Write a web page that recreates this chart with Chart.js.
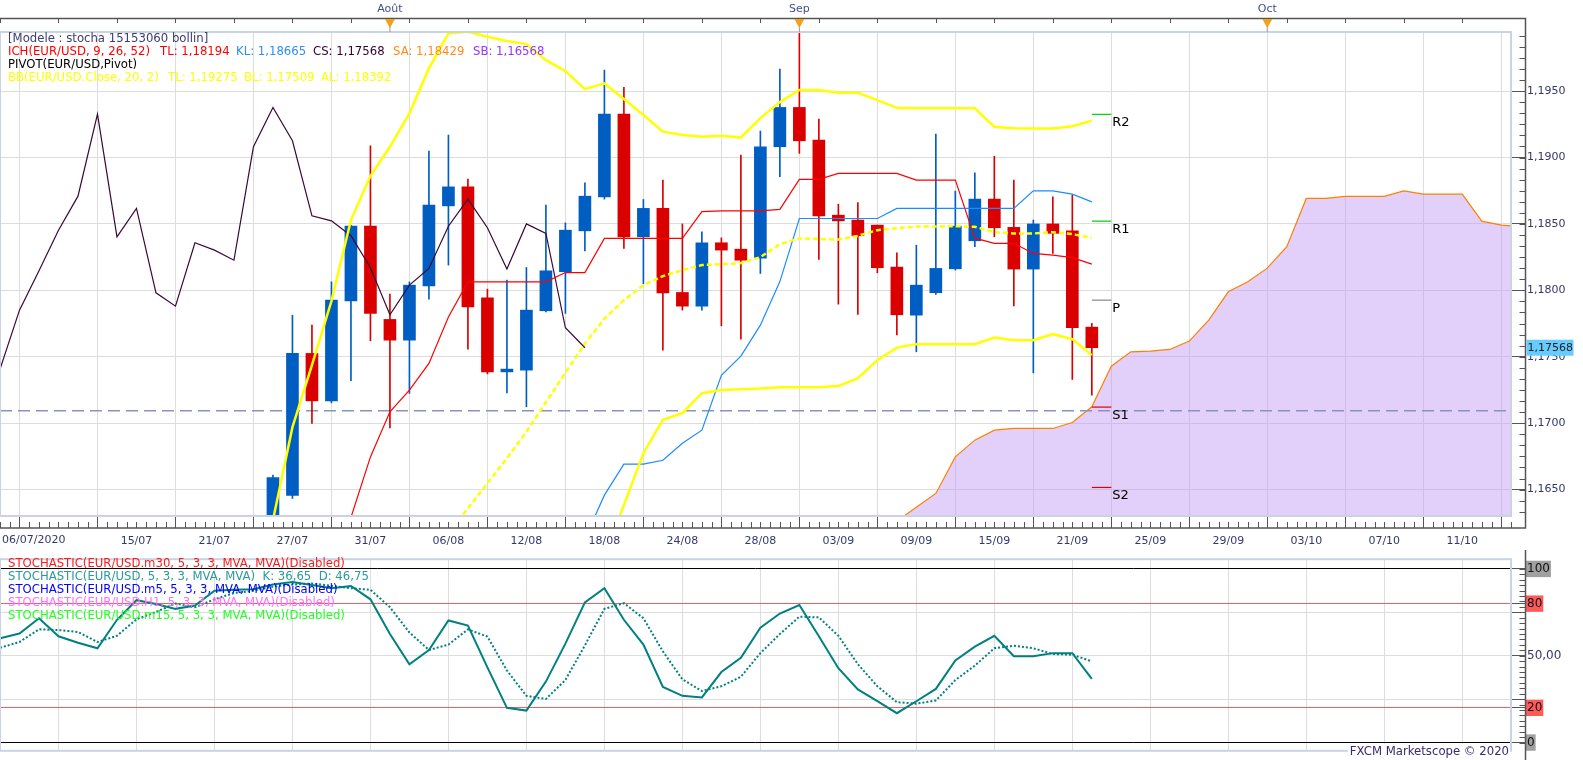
<!DOCTYPE html>
<html>
<head>
<meta charset="utf-8">
<script src="https://cdn.jsdelivr.net/npm/chart.js@4.4.1/dist/chart.umd.min.js"></script>
<style>
  body { margin: 0; background: #fff; width: 1583px; height: 760px; overflow: hidden; }
  #top { position: absolute; left: 0; top: 0; width: 1583px; height: 550px; }
  #bot { position: absolute; left: 0; top: 550px; width: 1583px; height: 210px; }
</style>
</head>
<body>
<div id="top"><canvas id="priceChart"></canvas></div>
<div id="bot"><canvas id="stochChart"></canvas></div>
<script>
// trading days, then calendar days for the projected cloud
const dates = ['06/07','07/07','08/07','09/07','10/07','13/07','14/07','15/07','16/07','17/07',
  '20/07','21/07','22/07','23/07','24/07','27/07','28/07','29/07','30/07','31/07',
  '03/08','04/08','05/08','06/08','07/08','10/08','11/08','12/08','13/08','14/08',
  '17/08','18/08','19/08','20/08','21/08','24/08','25/08','26/08','27/08','28/08','31/08',
  '01/09','02/09','03/09','04/09','07/09','08/09','09/09','10/09','11/09','14/09','15/09',
  '16/09','17/09','18/09','21/09','22/09','23/09','24/09','25/09','26/09','27/09','28/09',
  '29/09','30/09','01/10','02/10','03/10','04/10','05/10','06/10','07/10','08/10','09/10',
  '10/10','11/10','12/10','13/10','14/10'];

const gridDates = ['09/07','15/07','21/07','27/07','31/07','06/08','12/08','18/08','24/08','28/08',
  '03/09','09/09','15/09','21/09','25/09','29/09','03/10','07/10','11/10'];
const firstLabel = '06/07/2020';
const months = ['Août', 'Sep', 'Oct'];
const monthStarts = ['03/08', '01/09', '01/10'];

// daily candles from 24/07
const candleStart = '24/07';
const open  = [1.1594, 1.16456, 1.17525, 1.17168, 1.17921, 1.18483, 1.17781, 1.17625, 1.18034, 1.18636,
  1.18779, 1.17944, 1.17386, 1.17399, 1.17846, 1.18140, 1.18448, 1.18704, 1.19327, 1.18403,
  1.18617, 1.17984, 1.17881, 1.18358, 1.18310, 1.18242, 1.19081, 1.19377, 1.19131, 1.18566,
  1.18529, 1.18491, 1.18175, 1.17813, 1.17982, 1.18162, 1.18373, 1.18687, 1.18474, 1.18160,
  1.18500, 1.18448, 1.17723];
const high  = [1.1661, 1.17813, 1.17738, 1.18064, 1.1849, 1.19088, 1.17971, 1.18064, 1.19048, 1.19169,
  1.18837, 1.18009, 1.18077, 1.18172, 1.18642, 1.18508, 1.1881, 1.19658, 1.19528, 1.18684,
  1.1883, 1.185, 1.1844, 1.18395, 1.19018, 1.19199, 1.19666, 1.2011, 1.19289, 1.18649,
  1.1866, 1.18491, 1.18282, 1.1834, 1.19176, 1.18747, 1.18885, 1.1901, 1.1883, 1.18529,
  1.18704, 1.18717, 1.17751];
const low   = [1.1586, 1.16433, 1.16998, 1.17153, 1.17319, 1.1762, 1.16965, 1.17224, 1.17934, 1.1819,
  1.17557, 1.17371, 1.17228, 1.17123, 1.17838, 1.17826, 1.18297, 1.18687, 1.18316, 1.1805,
  1.1755, 1.17851, 1.17851, 1.17733, 1.17633, 1.18127, 1.18855, 1.19031, 1.18233, 1.17896,
  1.17819, 1.18132, 1.17665, 1.17537, 1.17969, 1.18152, 1.18328, 1.18403, 1.17883, 1.17379,
  1.18278, 1.17329, 1.17211];
const close = [1.1659, 1.17525, 1.17168, 1.17926, 1.18483, 1.17826, 1.17625, 1.18039, 1.18642, 1.18779,
  1.17876, 1.17386, 1.17407, 1.17851, 1.18147, 1.18453, 1.18709, 1.19327, 1.18403, 1.18617,
  1.17981, 1.17881, 1.18358, 1.18303, 1.18227, 1.19081, 1.19377, 1.19126, 1.18561, 1.18523,
  1.18411, 1.1817, 1.17816, 1.18039, 1.18165, 1.18483, 1.18687, 1.18471, 1.1816, 1.185,
  1.18429, 1.17718, 1.17568];

// ichimoku
const tenkanStart = '30/07';
const tenkan = [1.1629, 1.16746, 1.17085, 1.17249, 1.1745, 1.178, 1.18064, 1.18064, 1.18064, 1.18064,
  1.18064, 1.18134, 1.18134, 1.18391, 1.18391, 1.18391, 1.18391, 1.18391, 1.18593, 1.18599,
  1.18599, 1.18599, 1.1861, 1.18835, 1.18835, 1.1888, 1.1888, 1.1888, 1.1888, 1.1883,
  1.1883, 1.1883, 1.18393, 1.18354, 1.18354, 1.18278, 1.18265, 1.18246, 1.18197];
const kijunStart = '17/08';
const kijun = [1.1613, 1.16458, 1.16691, 1.16691, 1.16721, 1.16849, 1.16947, 1.17361, 1.17505, 1.17738,
  1.18066, 1.18541, 1.18541, 1.18541, 1.18541, 1.18541, 1.18617, 1.18617, 1.18617, 1.18617,
  1.18617, 1.18617, 1.18617, 1.18749, 1.18749, 1.18724, 1.18666];
const senkouAStart = '08/09';
const senkouA = [1.16262, 1.16367, 1.16471, 1.16746, 1.16872, 1.16947, 1.1696, 1.1696, 1.1696, 1.17005,
  1.17123, 1.17429, 1.17537, 1.17542, 1.17555, 1.17618, 1.17776, 1.17989, 1.18064, 1.18167,
  1.18329, 1.18692, 1.18692, 1.18707, 1.18707, 1.18707, 1.18749, 1.18724, 1.18724, 1.18724,
  1.18521, 1.18491, 1.1848];
const chikouShift = 26;

// bollinger 20,2
const bbUpperStart = '24/07';
const bbUpper = [1.1627, 1.1697, 1.17437, 1.17919, 1.18529, 1.1886, 1.19081, 1.19332, 1.19671, 1.19934,
  1.19946, 1.19909, 1.19877, 1.19854, 1.19733, 1.19651, 1.19515, 1.19558, 1.1944, 1.1932,
  1.19195, 1.19169, 1.19156, 1.19163, 1.1915, 1.19297, 1.19417, 1.19508, 1.19508, 1.19487,
  1.19487, 1.19432, 1.19374, 1.1937, 1.1937, 1.1937, 1.1937, 1.19231, 1.19221, 1.19219,
  1.19219, 1.19236, 1.19278];
const bbMidStart = '06/08';
const bbMid = [1.1617, 1.1636, 1.16548, 1.16736, 1.16936, 1.17158, 1.1738, 1.17599, 1.17787, 1.17926,
  1.18039, 1.18107, 1.18152, 1.1819, 1.18197, 1.18205, 1.1825, 1.18348, 1.18391, 1.18386,
  1.18383, 1.1841, 1.18453, 1.18468, 1.1848, 1.1848, 1.18483, 1.18478, 1.18438, 1.18428,
  1.18428, 1.18438, 1.18423, 1.18395];
const bbLowerStart = '18/08';
const bbLower = [1.15991, 1.16383, 1.16774, 1.17026, 1.17075, 1.17226, 1.17249, 1.17256, 1.17261, 1.17271,
  1.17271, 1.17271, 1.17279, 1.17339, 1.17474, 1.17569, 1.17595, 1.17595, 1.17595, 1.17595,
  1.17644, 1.17625, 1.17625, 1.1767, 1.17633, 1.17512];

// pivots
const pivotNames  = ['R2', 'R1', 'P', 'S1', 'S2'];
const pivotValues = [1.19325, 1.18521, 1.17926, 1.17121, 1.16516];
const pivotFrom = '22/09', pivotTo = '23/09';
const hLine = 1.17093;
const lastPrice = 1.17568;

// stochastic 5,3,3
const stochStart = '06/07';
const stochK = [60.1, 62.8, 71.6, 61.2, 57.5, 54.3, 70.7, 82, 79.8, 77, 78.9, 87.4, 88, 88.3, 91, 92.5,
  90.7, 88.9, 90.2, 82.5, 62.5, 45.1, 53.3, 70.3, 67.4, 43.3, 20, 18.4, 35.1, 57, 80.7, 88.9,
  70.7, 56.4, 32, 26.9, 26, 40.6, 48.8, 66.1, 74.3, 79.2, 61.2, 42.8, 30.6, 23.8, 16.9, 23.8,
  30.9, 47.3, 55.2, 61.5, 49.7, 49.7, 51.5, 51.5, 36.65];
const stochD = [54.6, 57.9, 65.2, 64.8, 63.7, 57.9, 61.5, 71, 75.2, 80.1, 77.9, 82.5, 86.1, 87.4, 89.8, 91,
  91.6, 90.3, 88.9, 88, 77.9, 63.4, 53.3, 56.4, 65.2, 61, 41.5, 26.9, 25.1, 36, 56, 77, 80.3,
  71.6, 52.5, 36.4, 29.7, 32.4, 37.9, 51.5, 62.5, 72.5, 72.1, 61.5, 45.1, 32.4, 23.3, 22.4,
  24.2, 36, 44.3, 54.3, 55.7, 54.3, 51, 50.6, 46.75];
const stochLevels = [0, 20, 25, 50, 75, 80, 100];

const BLUE = '#005ec2', RED = '#da0000';
const FONT = "'DejaVu Sans', sans-serif";
const LEGEND_FONT = '11.7px ' + FONT;
const AXIS_TEXT = '#33386b';
Chart.defaults.font.family = FONT;
Chart.defaults.font.size = 11;
Chart.defaults.color = AXIS_TEXT;

const pos = d => dates.indexOf(d);
const series = (start, values) => values.map((v, i) => ({ x: pos(start) + i, y: v }));
const fmt = v => v.toFixed(4).replace('.', ',');
const xMax = dates.length - 1.5;
const gridIdx = gridDates.map(pos);

const c0 = pos(candleStart);
const bodies = open.map((o, i) => ({ x: c0 + i, y: [o, close[i]] }));
const wicks = high.map((h, i) => ({ x: c0 + i, y: [low[i], h] }));
const candleColor = c => close[c.dataIndex] >= open[c.dataIndex] ? BLUE : RED;
const chikou = close.map((c, i) => ({ x: c0 + i - chikouShift, y: c }));
const pivotColors = ['#00d000', '#00d000', '#888888', '#e00000', '#e00000'];

function line(data, color, width, extra) {
  return Object.assign({ type: 'line', data, borderColor: color, borderWidth: width,
    pointRadius: 0, tension: 0, fill: false }, extra || {});
}

const datasets = [
  line(series(senkouAStart, senkouA), '#ff7f00', 1.2,
    { fill: 'start', backgroundColor: 'rgba(190,150,245,0.45)', order: 20 }),
  line([{ x: 0, y: hLine }, { x: xMax, y: hLine }], '#8a93c0', 1.5, { borderDash: [12, 6], order: 15 }),
  { type: 'bar', data: wicks, backgroundColor: candleColor, barThickness: 1, grouped: false, order: 11 },
  { type: 'bar', data: bodies, backgroundColor: candleColor, barThickness: 12, grouped: false,
    minBarLength: 2, order: 10 },
  line(chikou, '#3a0838', 1.2, { order: 4 }),
  line(series(kijunStart, kijun), '#1a8cff', 1.2, { order: 3 }),
  line(series(tenkanStart, tenkan), '#ff0000', 1.2, { order: 3 }),
  line(series(bbMidStart, bbMid), '#ffff00', 2.5, { borderDash: [5, 3], order: 1 }),
  line(series(bbUpperStart, bbUpper), '#ffff00', 2.5, { order: 1 }),
  line(series(bbLowerStart, bbLower), '#ffff00', 2.5, { order: 1 })
];
pivotValues.forEach((v, i) => {
  datasets.push(line([{ x: pos(pivotFrom), y: v }, { x: pos(pivotTo), y: v }], pivotColors[i], 1.2, { order: 2 }));
});

function text(ctx, str, x, y, color, font, align, base) {
  ctx.font = font || '11px ' + FONT;
  ctx.fillStyle = color;
  ctx.textAlign = align || 'left';
  ctx.textBaseline = base || 'middle';
  ctx.fillText(str, x, y);
}

const upperDecor = {
  id: 'upperDecor',
  afterDraw(chart) {
    const { ctx, chartArea: a, scales: { x, y } } = chart;
    const axisX = a.right + 14.5, axisY = a.bottom + 12;
    ctx.save();
    ctx.strokeStyle = '#cad3e4'; ctx.lineWidth = 2;
    ctx.strokeRect(a.left, a.top, a.right - a.left, a.bottom - a.top);

    ctx.strokeStyle = '#555'; ctx.lineWidth = 1.5;
    ctx.beginPath();
    ctx.moveTo(0, 18.5); ctx.lineTo(axisX, 18.5); ctx.lineTo(axisX, axisY); ctx.lineTo(0, axisY);
    ctx.stroke();

    ctx.lineWidth = 1;
    ctx.beginPath();
    for (let v = 0; v <= xMax; v += 0.5) {
      const px = Math.round(x.getPixelForValue(v)) + 0.5;
      ctx.moveTo(px, axisY - 6); ctx.lineTo(px, axisY);
    }
    for (let v = 0; v <= xMax; v += 3) {
      const px = Math.round(x.getPixelForValue(v)) + 0.5;
      ctx.moveTo(px, 18.5); ctx.lineTo(px, 23);
    }
    const step = 0.005 / 6;
    for (let v = Math.ceil(y.min / step) * step; v <= y.max; v += step) {
      const py = Math.round(y.getPixelForValue(v)) + 0.5;
      ctx.moveTo(axisX - 6, py); ctx.lineTo(axisX, py);
    }
    ctx.stroke();

    monthStarts.forEach((d, i) => {
      const px = x.getPixelForValue(pos(d));
      ctx.strokeStyle = '#999';
      ctx.beginPath(); ctx.moveTo(px, 26); ctx.lineTo(px, a.top); ctx.stroke();
      ctx.fillStyle = '#f5a01a';
      ctx.beginPath(); ctx.moveTo(px - 5, 19); ctx.lineTo(px + 5, 19); ctx.lineTo(px, 28); ctx.closePath(); ctx.fill();
      text(ctx, months[i], px, 9, '#42508a', null, 'center');
    });

    text(ctx, firstLabel, 2, a.bottom + 19, AXIS_TEXT, null, 'left', 'top');

    // indicator legend
    const L = LEGEND_FONT;
    text(ctx, '[Modele : stocha 15153060 bollin]', 8, 39, '#3c3c6e', L);
    text(ctx, 'ICH(EUR/USD, 9, 26, 52)', 8, 52, '#ff0000', L);
    text(ctx, 'TL: 1,18194', 160, 52, '#ff0000', L);
    text(ctx, 'KL: 1,18665', 236, 52, '#2e8fef', L);
    text(ctx, 'CS: 1,17568', 313, 52, '#330033', L);
    text(ctx, 'SA: 1,18429', 393, 52, '#ff8c1a', L);
    text(ctx, 'SB: 1,16568', 473, 52, '#9933ff', L);
    text(ctx, 'PIVOT(EUR/USD,Pivot)', 8, 65, '#000000', L);
    text(ctx, 'BB(EUR/USD.Close, 20, 2)', 8, 78, '#ffff00', L);
    text(ctx, 'TL: 1,19275', 168, 78, '#ffff00', L);
    text(ctx, 'BL: 1,17509', 244, 78, '#ffff00', L);
    text(ctx, 'AL: 1,18392', 321, 78, '#ffff00', L);

    pivotNames.forEach((n, i) => {
      text(ctx, n, x.getPixelForValue(pos(pivotTo)) + 1, y.getPixelForValue(pivotValues[i]) + 2,
        '#000', '13px ' + FONT, 'left', 'top');
    });

    const py = y.getPixelForValue(lastPrice);
    ctx.fillStyle = '#66ccff';
    ctx.fillRect(axisX + 1, py - 8, 47, 16);
    text(ctx, '1,17568', axisX + 2, py, '#222', null, 'left');
    ctx.restore();
  }
};

new Chart(document.getElementById('priceChart'), {
  type: 'line',
  data: { datasets },
  options: {
    responsive: true, maintainAspectRatio: false, animation: false,
    layout: { padding: { top: 32, left: 0, right: 0, bottom: 0 } },
    plugins: { legend: { display: false }, tooltip: { enabled: false } },
    scales: {
      x: {
        type: 'linear', min: 0, max: xMax, offset: false,
        afterBuildTicks: s => { s.ticks = gridIdx.map(v => ({ value: v })); },
        afterFit: s => { s.height = 34; },
        ticks: { autoSkip: false, maxRotation: 0, padding: 7, color: AXIS_TEXT,
          callback: v => (v === gridIdx[0] ? '' : dates[v]) },
        grid: { color: '#dddddd', tickColor: '#555', tickLength: 12 },
        border: { display: false }
      },
      y: {
        position: 'right', min: 1.16301, max: 1.19945,
        afterBuildTicks: s => { s.ticks = [1.165, 1.17, 1.175, 1.18, 1.185, 1.19, 1.195].map(v => ({ value: v })); },
        afterFit: s => { s.width = 72; },
        ticks: { autoSkip: false, padding: 2, color: AXIS_TEXT, callback: v => fmt(v) },
        grid: { color: '#dddddd', tickColor: '#555', tickLength: 14 },
        border: { display: false }
      }
    }
  },
  plugins: [upperDecor]
});

// stochastic panel
const lowerDecor = {
  id: 'lowerDecor',
  afterDraw(chart) {
    const { ctx, chartArea: a, scales: { y } } = chart;
    const axisX = a.right + 14.5;
    ctx.save();
    ctx.strokeStyle = '#cad3e4'; ctx.lineWidth = 2;
    ctx.strokeRect(a.left, a.top, a.right - a.left, a.bottom - a.top);
    ctx.strokeStyle = '#555'; ctx.lineWidth = 1.5;
    ctx.beginPath(); ctx.moveTo(axisX, 0); ctx.lineTo(axisX, chart.height); ctx.stroke();
    ctx.lineWidth = 1;
    ctx.beginPath();
    for (let v = 0; v <= 100.01; v += 3.125) {
      const py = Math.round(y.getPixelForValue(v)) + 0.5;
      ctx.moveTo(axisX - 6, py); ctx.lineTo(axisX, py);
    }
    ctx.stroke();

    const L = LEGEND_FONT;
    text(ctx, 'STOCHASTIC(EUR/USD.m30, 5, 3, 3, MVA, MVA)(Disabled)', 8, 14, '#ff1a1a', L);
    text(ctx, 'STOCHASTIC(EUR/USD, 5, 3, 3, MVA, MVA)  K: 36,65  D: 46,75', 8, 27, '#2a9a9a', L);
    text(ctx, 'STOCHASTIC(EUR/USD.m5, 5, 3, 3, MVA, MVA)(Disabled)', 8, 40, '#0000ff', L);
    text(ctx, 'STOCHASTIC(EUR/USD.H1, 5, 3, 3, MVA, MVA)(Disabled)', 8, 53, '#ff70ff', L);
    text(ctx, 'STOCHASTIC(EUR/USD.m15, 5, 3, 3, MVA, MVA)(Disabled)', 8, 66, '#22ff22', L);

    const label = 'FXCM Marketscope © 2020';
    ctx.font = L;
    const w = ctx.measureText(label).width;
    ctx.fillStyle = '#fff';
    ctx.fillRect(a.right - w - 4, 194, w + 3, 14);
    text(ctx, label, a.right - 2, 202, '#3a2a6c', L, 'right');
    ctx.restore();
  }
};

const levelColor = v => (v === 0 || v === 100) ? '#000000' : (v === 20 || v === 80) ? '#ff5a5a' : '#dddddd';
const levelBack = v => (v === 0 || v === 100) ? '#a0a0a0' : (v === 20 || v === 80) ? '#ff5a5a' : 'rgba(0,0,0,0)';

new Chart(document.getElementById('stochChart'), {
  type: 'line',
  data: {
    datasets: [
      line(series(stochStart, stochK), '#008080', 2, { order: 1 }),
      line(series(stochStart, stochD), '#008080', 2, { borderDash: [2, 2], order: 2 })
    ]
  },
  options: {
    responsive: true, maintainAspectRatio: false, animation: false,
    layout: { padding: { top: 6, left: 0, right: 0, bottom: 0 } },
    plugins: { legend: { display: false }, tooltip: { enabled: false } },
    scales: {
      x: {
        type: 'linear', min: 0, max: xMax, offset: false,
        afterBuildTicks: s => { s.ticks = gridIdx.map(v => ({ value: v })); },
        afterFit: s => { s.height = 2; },
        ticks: { display: false },
        grid: { color: '#dddddd', drawTicks: false },
        border: { display: false }
      },
      y: {
        position: 'right', min: -4.75, max: 105.6,
        afterBuildTicks: s => { s.ticks = stochLevels.map(v => ({ value: v })); },
        afterFit: s => { s.width = 72; },
        ticks: {
          autoSkip: false, padding: 2, font: { size: 12 },
          color: c => (c.tick.value === 50 ? AXIS_TEXT : '#111'),
          callback: v => (v === 25 || v === 75) ? '' : v === 50 ? '50,00' : String(v),
          showLabelBackdrop: true, backdropPadding: 1,
          backdropColor: c => levelBack(c.tick.value)
        },
        grid: { color: c => levelColor(c.tick.value), tickColor: '#555', tickLength: 14 },
        border: { display: false }
      }
    }
  },
  plugins: [lowerDecor]
});
</script>
</body>
</html>
